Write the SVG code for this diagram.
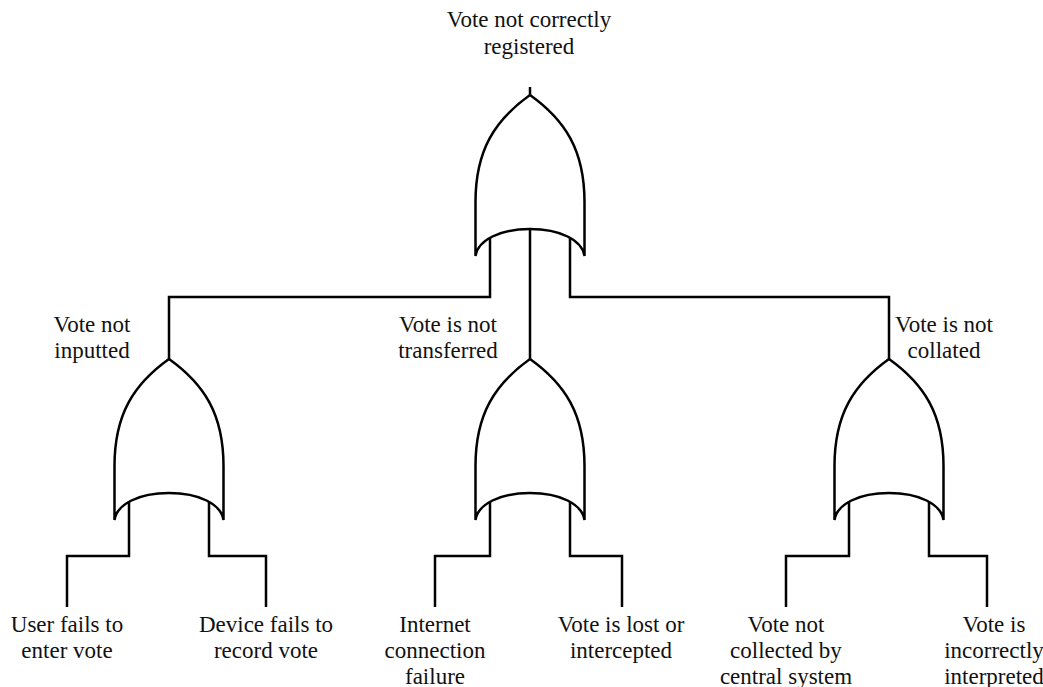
<svg xmlns="http://www.w3.org/2000/svg" xmlns:xlink="http://www.w3.org/1999/xlink" width="1043" height="687" viewBox="0 0 1043 687">
<style>
.ln{fill:none;stroke:#000;stroke-width:2.5}
.gate{fill:#fff;stroke:#000;stroke-width:2.5;stroke-linejoin:miter}
.lbl{font-family:"Liberation Serif","Times New Roman",serif;font-size:23px;fill:#111;text-anchor:middle}
</style>
<defs>
<path id="orgate" class="gate" d="M -54.5,107 C -54.5,55 -35,25 0,0 C 35,25 54.5,55 54.5,107 L 54.5,161 C 52,145 30,134 0,134 C -30,134 -52,145 -54.5,161 Z"/>
</defs>
<rect width="1043" height="687" fill="#fff"/>
<g id="connectors">
<path class="ln" d="M530,87 V95"/>
<path class="ln" d="M490,234 V297 H169 V359"/>
<path class="ln" d="M530,229 V359"/>
<path class="ln" d="M570,234 V297 H889 V359"/>
<path class="ln" d="M129,498 V556 H67 V607"/>
<path class="ln" d="M209,498 V556 H266 V607"/>
<path class="ln" d="M490,498 V556 H435 V607"/>
<path class="ln" d="M570,498 V556 H622 V607"/>
<path class="ln" d="M849,498 V556 H786 V607"/>
<path class="ln" d="M929,498 V556 H987 V607"/>
</g>
<g id="gate-top"><use xlink:href="#orgate" transform="translate(530,95)"/>
<text class="lbl" x="529" y="27">Vote not correctly</text>
<text class="lbl" x="529" y="54">registered</text></g>
<g id="gate-input"><use xlink:href="#orgate" transform="translate(169,359)"/>
<text class="lbl" x="92" y="332">Vote not</text>
<text class="lbl" x="92" y="358">inputted</text></g>
<g id="gate-transfer"><use xlink:href="#orgate" transform="translate(530,359)"/>
<text class="lbl" x="448" y="332">Vote is not</text>
<text class="lbl" x="448" y="358">transferred</text></g>
<g id="gate-collate"><use xlink:href="#orgate" transform="translate(889,359)"/>
<text class="lbl" x="944" y="332">Vote is not</text>
<text class="lbl" x="944" y="358">collated</text></g>
<g id="ev-user"><text class="lbl" x="67" y="632">User fails to</text><text class="lbl" x="67" y="658">enter vote</text></g>
<g id="ev-device"><text class="lbl" x="266" y="632">Device fails to</text><text class="lbl" x="266" y="658">record vote</text></g>
<g id="ev-internet"><text class="lbl" x="435" y="632">Internet</text><text class="lbl" x="435" y="658">connection</text><text class="lbl" x="435" y="684">failure</text></g>
<g id="ev-lost"><text class="lbl" x="621" y="632">Vote is lost or</text><text class="lbl" x="621" y="658">intercepted</text></g>
<g id="ev-collect"><text class="lbl" x="786" y="632">Vote not</text><text class="lbl" x="786" y="658">collected by</text><text class="lbl" x="786" y="684">central system</text></g>
<g id="ev-interp"><text class="lbl" x="994" y="632">Vote is</text><text class="lbl" x="994" y="658">incorrectly</text><text class="lbl" x="994" y="684">interpreted</text></g>
</svg>
